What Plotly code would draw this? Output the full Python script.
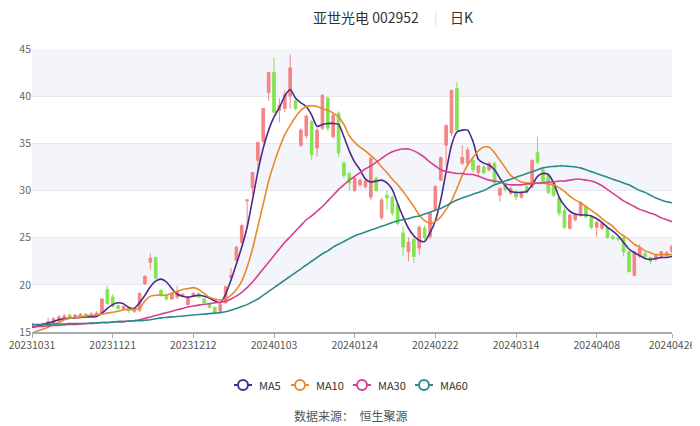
import plotly.graph_objects as go

dates = ["20231031","20231101","20231102","20231103","20231106","20231107","20231108","20231109","20231110","20231113",
"20231114","20231115","20231116","20231117","20231120","20231121","20231122","20231123","20231124","20231127",
"20231128","20231129","20231130","20231201","20231204","20231205","20231206","20231207","20231208","20231211",
"20231212","20231213","20231214","20231215","20231218","20231219","20231220","20231221","20231222","20231225",
"20231226","20231227","20231228","20231229","20240102","20240103","20240104","20240105","20240108","20240109",
"20240110","20240111","20240112","20240115","20240116","20240117","20240118","20240119","20240122","20240123",
"20240124","20240125","20240126","20240129","20240130","20240131","20240201","20240202","20240205","20240206",
"20240207","20240208","20240219","20240220","20240221","20240222","20240223","20240226","20240227","20240228",
"20240229","20240301","20240304","20240305","20240306","20240307","20240308","20240311","20240312","20240313",
"20240314","20240315","20240318","20240319","20240320","20240321","20240322","20240325","20240326","20240327",
"20240328","20240329","20240401","20240402","20240403","20240408","20240409","20240410","20240411","20240412",
"20240415","20240416","20240417","20240418","20240419","20240422","20240423","20240424","20240425","20240426"]

open_ = [15.9,15.8,15.6,15.8,16.0,16.2,16.5,16.8,16.5,16.7,
16.9,16.7,16.8,16.9,19.5,18.7,17.8,17.5,17.6,17.2,
17.3,20.1,22.4,22.9,19.4,18.9,18.5,18.7,18.8,17.9,
18.8,19.1,18.5,18.0,17.6,17.2,18.1,20.8,22.6,24.5,
28.9,30.3,33.2,35.2,40.4,42.5,38.5,38.7,40.0,39.5,
34.8,35.8,37.3,34.5,36.6,39.8,35.7,38.2,32.9,31.8,
30.0,30.6,30.4,29.3,31.3,27.1,29.5,29.3,28.5,25.5,
23.5,24.8,23.9,26.0,25.1,28.0,31.1,34.8,36.1,40.8,
32.9,32.9,33.2,31.9,32.5,32.2,32.9,29.5,30.6,29.7,
29.8,29.3,30.4,30.4,34.0,32.2,31.6,30.8,29.2,27.9,
26.0,26.9,27.4,28.3,27.2,26.1,26.0,26.1,25.1,25.0,
25.0,23.5,21.0,23.0,23.3,22.9,22.7,23.0,23.1,23.5]

close = [15.6,15.6,15.9,16.1,16.4,16.6,16.7,16.5,16.8,16.9,
16.7,16.9,17.0,18.5,18.0,17.7,17.5,17.7,17.3,17.5,
19.1,20.9,22.8,20.7,18.9,18.5,19.1,19.3,19.0,18.6,
19.1,18.7,18.1,17.6,17.1,17.9,19.8,21.0,24.0,26.3,
29.0,31.9,35.1,38.7,42.5,38.3,39.0,40.2,43.0,38.7,
36.4,37.9,33.8,36.4,40.1,36.6,38.0,34.0,31.6,30.8,
31.3,31.1,31.0,33.4,30.0,29.0,29.2,27.6,26.5,24.0,
24.5,23.0,26.1,25.0,27.6,30.4,33.5,36.9,40.6,36.4,
33.5,34.3,32.2,32.6,31.9,32.9,30.8,30.2,30.1,30.2,
29.3,29.7,29.8,33.2,33.0,30.9,29.8,29.5,27.6,26.1,
27.4,27.4,28.7,27.2,26.1,26.6,26.5,25.0,24.9,24.85,
23.5,21.4,23.5,23.9,23.0,22.5,23.1,23.5,23.4,24.1]

low = [15.4,15.5,15.5,15.6,15.9,16.0,16.3,16.4,16.4,16.6,
16.5,16.6,16.7,16.8,17.9,17.6,17.3,17.4,17.0,17.0,
17.1,20.0,21.6,20.6,18.7,18.3,18.4,18.5,18.7,17.8,
18.7,18.6,18.0,17.5,17.0,17.0,18.0,20.6,22.5,24.4,
26.2,29.6,32.0,35.0,39.5,38.2,37.2,38.3,38.7,38.5,
34.6,35.5,33.2,33.6,36.4,36.3,35.5,33.5,31.3,30.0,
29.8,30.4,30.2,29.0,29.8,26.9,28.0,27.3,26.3,23.0,
22.5,22.3,23.2,24.8,24.8,27.8,31.0,32.5,35.8,36.2,
32.7,32.6,31.9,31.5,31.7,32.0,30.6,28.8,29.8,29.5,
29.0,29.1,29.6,30.2,32.8,30.7,29.6,29.3,27.3,25.9,
25.8,26.7,27.2,27.0,25.9,25.1,25.8,24.9,24.7,24.6,
23.0,21.3,20.9,22.8,22.8,22.2,22.5,22.8,22.9,23.4]

high = [16.0,15.9,16.0,16.5,16.6,16.8,16.9,16.9,16.9,17.0,
17.0,17.1,17.2,18.6,19.9,19.0,17.9,17.8,17.7,17.6,
19.2,21.0,23.3,23.0,19.6,19.1,19.2,19.9,19.1,18.7,
19.2,19.2,18.6,18.1,17.7,18.0,19.9,21.8,24.1,26.4,
29.0,31.9,35.1,38.7,42.6,44.1,39.8,40.6,44.4,39.8,
36.6,38.0,37.5,36.7,40.2,40.0,38.2,38.4,33.1,32.0,
31.5,31.3,31.2,33.6,31.5,29.2,30.0,29.5,28.7,26.2,
25.0,25.2,26.3,26.3,27.8,30.6,33.6,37.0,40.7,41.5,
34.8,34.6,33.5,32.7,32.7,33.0,33.0,30.4,30.8,30.4,
30.0,29.9,30.6,33.3,35.7,32.4,31.8,31.0,29.4,28.2,
27.5,27.6,28.9,28.5,27.4,26.8,26.6,26.3,25.3,25.2,
25.1,23.6,23.6,24.3,23.5,23.0,23.2,23.6,23.6,24.2]

ma5 = [15.5,15.6,15.8,15.95,16.1,16.3,16.4,16.45,16.5,16.55,
16.6,16.6,16.65,17.0,17.5,17.9,18.1,18.0,17.6,17.5,
18.1,18.9,19.8,20.4,20.6,20.3,19.6,19.0,18.8,18.7,
18.8,18.9,18.8,18.6,18.3,18.1,19.0,20.5,22.2,24.0,
26.1,29.0,32.0,34.5,36.4,37.8,38.8,40.0,40.7,39.8,
39.3,38.9,38.0,36.8,37.0,37.1,37.1,37.0,35.7,34.2,
33.0,32.2,31.2,30.9,31.0,31.1,30.8,30.1,28.6,27.2,
26.0,25.2,24.7,24.6,25.5,26.8,29.0,32.0,34.8,36.2,
36.4,36.4,35.2,33.3,32.9,32.7,32.2,31.3,30.5,29.9,
29.8,29.8,29.9,30.6,31.5,31.8,31.7,30.8,29.3,28.4,
27.8,27.5,27.4,27.4,27.3,27.0,26.6,26.1,25.7,25.2,
24.5,23.8,23.4,23.1,22.8,22.7,22.8,22.9,22.9,23.0]

ma10 = [14.9,15.1,15.3,15.5,15.8,16.0,16.3,16.45,16.55,16.6,
16.7,16.75,16.8,16.9,17.0,17.1,17.2,17.35,17.4,17.4,
17.5,18.3,18.8,18.9,18.9,18.9,19.1,19.3,19.5,19.6,
19.7,19.5,19.1,18.7,18.5,18.4,18.5,18.9,19.5,20.4,
21.9,23.8,26.2,28.6,31.0,32.9,34.5,35.9,36.9,37.8,
38.5,38.9,39.0,38.9,38.7,38.5,38.2,37.8,37.0,35.8,
35.1,34.6,34.2,33.7,33.2,32.5,31.9,31.2,30.6,29.9,
29.1,28.3,27.4,26.8,26.5,26.7,27.2,28.0,28.9,30.2,
31.6,32.7,33.5,34.2,34.6,34.6,34.0,33.2,32.4,31.6,
31.2,30.9,30.8,30.8,30.8,30.8,30.7,30.6,30.3,29.9,
29.4,29.0,28.7,28.3,27.9,27.5,27.0,26.6,26.2,25.6,
25.2,24.8,24.3,24.0,23.6,23.4,23.2,23.2,23.2,23.2]

ma30 = [15.6,15.6,15.6,15.65,15.7,15.7,15.75,15.8,15.8,15.85,
15.9,15.9,15.95,16.0,16.0,16.05,16.1,16.1,16.15,16.2,
16.3,16.45,16.6,16.75,16.9,17.05,17.2,17.35,17.5,17.65,
17.75,17.85,17.95,18.0,18.1,18.15,18.25,18.5,18.8,19.2,
19.7,20.3,21.0,21.7,22.4,23.1,23.8,24.5,25.1,25.7,
26.3,26.9,27.3,27.8,28.3,28.9,29.5,30.1,30.6,31.1,
31.5,31.9,32.3,32.6,33.0,33.4,33.8,34.1,34.3,34.4,
34.4,34.2,33.9,33.5,33.0,32.6,32.2,32.0,31.9,31.8,
31.8,31.7,31.7,31.5,31.3,31.1,31.0,30.9,30.7,30.6,
30.6,30.6,30.7,30.7,30.8,30.8,30.9,30.9,31.0,31.0,
31.1,31.2,31.2,31.1,31.0,30.8,30.5,30.1,29.7,29.3,
28.9,28.6,28.3,28.0,27.8,27.6,27.4,27.1,26.9,26.7]

ma60 = [15.8,15.8,15.8,15.8,15.85,15.85,15.85,15.9,15.9,15.9,
15.9,15.95,15.95,16.0,16.0,16.05,16.1,16.1,16.15,16.2,
16.2,16.25,16.3,16.4,16.5,16.55,16.6,16.65,16.7,16.75,
16.8,16.85,16.9,16.95,17.0,17.05,17.15,17.3,17.5,17.7,
17.9,18.2,18.5,18.9,19.3,19.7,20.1,20.5,20.9,21.3,
21.7,22.1,22.5,22.9,23.3,23.6,24.0,24.3,24.6,24.9,
25.2,25.4,25.6,25.8,26.0,26.2,26.4,26.6,26.8,26.9,
27.0,27.2,27.3,27.5,27.7,27.9,28.1,28.4,28.7,29.0,
29.2,29.4,29.6,29.8,30.0,30.3,30.6,30.8,31.0,31.2,
31.4,31.6,31.8,32.0,32.2,32.4,32.5,32.55,32.6,32.6,
32.55,32.5,32.4,32.2,32.0,31.8,31.6,31.4,31.2,31.0,
30.8,30.6,30.3,30.0,29.8,29.5,29.2,29.0,28.8,28.7]

tick_idx = [0, 15, 30, 45, 60, 75, 90, 105, 119]
y_ticks = [15, 20, 25, 30, 35, 40, 45]
ma_names = ["MA5", "MA10", "MA30", "MA60"]
ma_colors = ["#4a2a8c", "#e8892e", "#d6408f", "#2a8a8a"]

x = list(range(len(dates)))
fig = go.Figure()

fig.add_trace(go.Candlestick(
    x=x, open=open_, high=high, low=low, close=close,
    increasing=dict(line=dict(color="#f58484", width=1), fillcolor="#f58484"),
    decreasing=dict(line=dict(color="#84e353", width=1), fillcolor="#84e353"),
    whiskerwidth=0, showlegend=False, hoverinfo="skip"))

for name, vals, col in zip(ma_names, [ma5, ma10, ma30, ma60], ma_colors):
    fig.add_trace(go.Scatter(x=x, y=vals, mode="lines", name=name,
                             line=dict(color=col, width=1.6, shape="spline", smoothing=0.6),
                             showlegend=False, hoverinfo="skip"))

# page has an 8px body margin: figure is placed at (8,8); helpers map page pixels to paper coords
pw = 640
ph = 283
def px(xp): return (xp - 32) / pw
def py(yp): return (332 - yp) / ph

shapes = []
for lo, hi in [(20, 25), (30, 35), (40, 45)]:
    shapes.append(dict(type="rect", xref="paper", yref="y", x0=0, x1=1, y0=lo, y1=hi,
                       fillcolor="#f4f5fa", line=dict(width=0), layer="below"))

annotations = [
    dict(text="亚世光电 002952", x=px(366), y=py(17), xref="paper", yref="paper", showarrow=False,
         yanchor="middle", xanchor="center", font=dict(size=14, color="#333")),
    dict(text="|", x=px(436), y=py(17), xref="paper", yref="paper", showarrow=False,
         yanchor="middle", xanchor="center", font=dict(size=13, color="#ddd")),
    dict(text="日K", x=px(461), y=py(17), xref="paper", yref="paper", showarrow=False,
         yanchor="middle", xanchor="center", font=dict(size=14, color="#333")),
    dict(text="数据来源：  恒生聚源", x=px(350), y=py(416), xref="paper", yref="paper", showarrow=False,
         yanchor="middle", xanchor="center", font=dict(size=12, color="#555")),
]

# custom legend (line + hollow circle + label)
leg_cx = [243, 300, 362, 424]
leg_y = 385
for cx, name, col in zip(leg_cx, ma_names, ma_colors):
    shapes.append(dict(type="line", xref="paper", yref="paper", x0=px(cx - 9), x1=px(cx + 9),
                       y0=py(leg_y), y1=py(leg_y), line=dict(color=col, width=2)))
    shapes.append(dict(type="circle", xref="paper", yref="paper", xsizemode="pixel", ysizemode="pixel",
                       xanchor=px(cx), yanchor=py(leg_y), x0=-5, x1=5, y0=-5, y1=5,
                       fillcolor="white", line=dict(color=col, width=2)))
    annotations.append(dict(text=name, x=px(cx + 14), y=py(leg_y), xref="paper", yref="paper",
                            showarrow=False, xanchor="left", yanchor="middle",
                            font=dict(size=11, color="#333")))

fig.update_layout(
    width=692, height=418,
    margin=dict(l=24, r=28, t=41, b=94),
    paper_bgcolor="white", plot_bgcolor="white",
    font=dict(family="Noto Sans CJK SC, Noto Sans, sans-serif", color="#555"),
    shapes=shapes,
    showlegend=False,
    xaxis=dict(range=[0, 119], tickmode="array", tickvals=tick_idx, ticktext=[dates[i] for i in tick_idx],
               showgrid=False, zeroline=False, showline=True, linecolor="#aaaaaa", linewidth=1.5,
               ticks="outside", ticklen=4, tickcolor="#aaaaaa", tickfont=dict(size=10.5, color="#555"),
               ticklabelstandoff=-1, automargin=False, ticklabeloverflow="allow",
               rangeslider=dict(visible=False), fixedrange=True),
    yaxis=dict(range=[15, 45], tickvals=y_ticks, showgrid=True, gridcolor="#e6e8ef", gridwidth=1,
               zeroline=False, showline=False, tickfont=dict(size=10.5, color="#666"), ticks="", ticklen=0,
               automargin=False, ticklabeloverflow="allow"),
    annotations=annotations,
)
fig.write_html("out.html")
